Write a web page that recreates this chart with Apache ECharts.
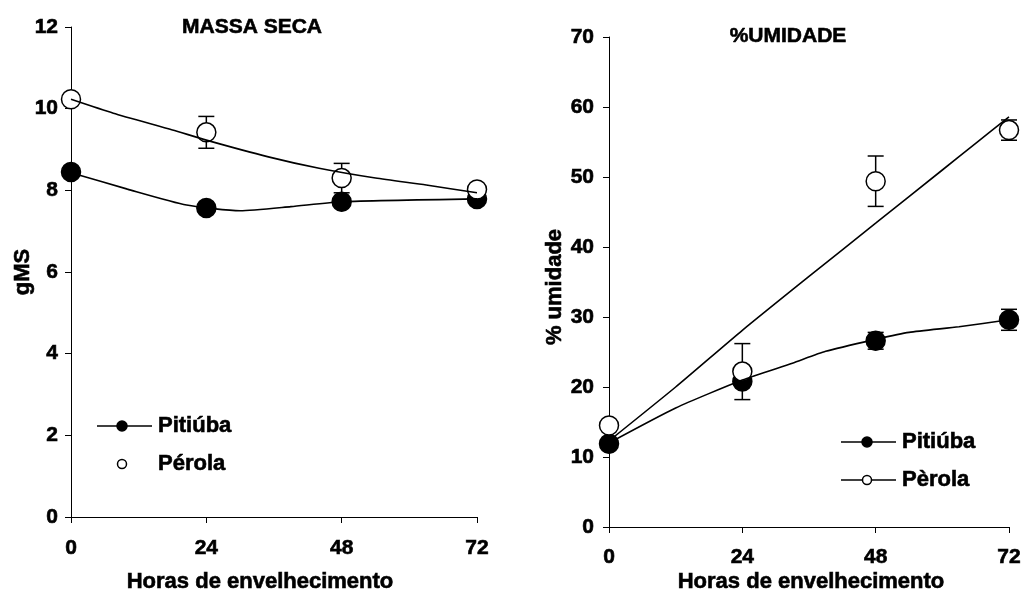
<!DOCTYPE html>
<html>
<head>
<meta charset="utf-8">
<script src="https://cdn.jsdelivr.net/npm/echarts@6/dist/echarts.min.js"></script>
<style>
html,body{margin:0;padding:0;background:#fff;}
#chart{width:1027px;height:592px;}
</style>
</head>
<body>
<div id="chart"></div>
<script>
// ---------- data ----------
const hours = [0, 24, 48, 72];
const xTicks = ['0', '24', '48', '72'];

// MASSA SECA (gMS)
const msPitiuba = [8.45, 7.57, 7.72, 7.79];
const msPitiubaErr = [0, 0, 0, 0];
const msPerola = [10.23, 9.42, 8.30, 8.02];
const msPerolaErr = [0, 0.39, 0.36, 0];
// trend curves: [hour, value]
const msPitiubaTrend = [[0, 8.43], [10, 8.03], [20.5, 7.64], [30, 7.50], [39, 7.60], [48, 7.72], [72, 7.79]];
const msPerolaTrend = [[0, 10.23], [7.5, 9.89], [18, 9.48], [24, 9.23], [35, 8.82], [44, 8.54], [54, 8.30], [63, 8.13], [72, 7.94]];

// % UMIDADE
const umPitiuba = [11.9, 20.8, 26.6, 29.6];
const umPitiubaErr = [0, 0, 1.2, 1.5];
const umPerola = [14.5, 22.2, 49.4, 56.7];
const umPerolaErr = [0, 4.0, 3.6, 1.45];
const umPitiubaTrend = [[0, 12.0], [12, 17.0], [24, 21.0], [33, 23.4], [39, 25.1], [48, 26.8], [54, 27.8], [63, 28.6], [72, 29.6]];
const umPerolaTrend = [[0, 12.3], [12, 20.0], [24, 28.1], [36, 35.8], [48, 43.4], [60, 51.0], [66, 54.8], [72, 58.6]];

const seriesNames = ['Pitiúba', 'Pérola', 'Pèrola'];
const titles = ['MASSA SECA', '%UMIDADE'];
const yNames = ['gMS', '% umidade'];
const xName = 'Horas de envelhecimento';

// ---------- helpers ----------
const FONT = '"Liberation Sans", Arial, sans-serif';
const HEAVY = 0.6;
function pts(vals) { return hours.map((h, i) => [h, vals[i]]); }
function errData(vals, errs) {
  const out = [];
  hours.forEach((h, i) => { if (errs[i] > 0) out.push([h, vals[i] - errs[i], vals[i] + errs[i]]); });
  return out;
}
function errSeries(idx, vals, errs) {
  return {
    type: 'custom', xAxisIndex: idx, yAxisIndex: idx, z: 1, silent: true,
    data: errData(vals, errs),
    renderItem: function (params, api) {
      const x = api.value(0), lo = api.value(1), hi = api.value(2);
      const a = api.coord([x, hi]), b = api.coord([x, lo]);
      const w = 8, st = { stroke: '#000', lineWidth: 1.5 };
      return { type: 'group', children: [
        { type: 'line', shape: { x1: a[0], y1: a[1], x2: b[0], y2: b[1] }, style: st },
        { type: 'line', shape: { x1: a[0] - w, y1: a[1], x2: a[0] + w, y2: a[1] }, style: st },
        { type: 'line', shape: { x1: b[0] - w, y1: b[1], x2: b[0] + w, y2: b[1] }, style: st }
      ] };
    }
  };
}
function markSeries(idx, vals, filled) {
  return {
    type: 'scatter', xAxisIndex: idx, yAxisIndex: idx, z: 2, silent: true,
    symbol: 'circle', symbolSize: 19, data: pts(vals),
    itemStyle: { color: filled ? '#000' : '#fff', borderColor: '#000', borderWidth: 1.5, opacity: 1 }
  };
}
function trendSeries(idx, data) {
  return {
    type: 'line', xAxisIndex: idx, yAxisIndex: idx, z: 3, silent: true,
    smooth: 0.2, showSymbol: false, symbol: 'none', data: data,
    lineStyle: { color: '#000', width: 1.6 }
  };
}
const axisTxt = { color: '#000', fontFamily: FONT, fontWeight: 'bold', fontSize: 21,
                  textBorderColor: '#000', textBorderWidth: HEAVY };
function xAxis(idx, margin) {
  return {
    type: 'value', gridIndex: idx, min: 0, max: 72, interval: 24,
    axisLine: { show: true, onZero: false, lineStyle: { color: '#000', width: 1 } },
    axisTick: { show: true, length: 6, lineStyle: { color: '#000' } },
    axisLabel: Object.assign({ margin: margin, formatter: v => xTicks[hours.indexOf(v)] }, axisTxt),
    splitLine: { show: false }
  };
}
function yAxis(idx, max, interval, margin) {
  return {
    type: 'value', gridIndex: idx, min: 0, max: max, interval: interval,
    axisLine: { show: true, lineStyle: { color: '#000', width: 1 } },
    axisTick: { show: true, length: 6, lineStyle: { color: '#000' } },
    axisLabel: Object.assign({ margin: margin }, axisTxt),
    splitLine: { show: false }
  };
}
function txt(text, x, y, size, rot) {
  return {
    type: 'text', x: x, y: y, rotation: rot || 0, silent: true,
    style: { text: text, x: 0, y: 0, fill: '#000', font: 'bold ' + size + 'px ' + FONT,
             stroke: '#000', lineWidth: HEAVY,
             textAlign: 'center', textVerticalAlign: 'middle' }
  };
}
function legendItem(x0, x1, cx, y, filled, withLine, label, tx) {
  const els = [];
  if (withLine) els.push({ type: 'line', silent: true, shape: { x1: x0, y1: y, x2: x1, y2: y }, style: { stroke: '#000', lineWidth: 1.6 } });
  els.push({ type: 'circle', silent: true, shape: { cx: cx, cy: y, r: filled ? 5 : 4.5 },
             style: { fill: filled ? '#000' : '#fff', stroke: '#000', lineWidth: 1.5 } });
  els.push({ type: 'text', silent: true, style: { text: label, x: tx, y: y, fill: '#000',
             stroke: '#000', lineWidth: HEAVY,
             font: 'bold 22px ' + FONT, textAlign: 'left', textVerticalAlign: 'middle' } });
  return els;
}

const chart = echarts.init(document.getElementById('chart'), null, { renderer: 'canvas' });
chart.setOption({
  animation: false,
  backgroundColor: '#fff',
  grid: [
    { left: 71, top: 27, width: 406, height: 490 },
    { left: 609, top: 37, width: 400, height: 490 }
  ],
  xAxis: [xAxis(0, 21), xAxis(1, 20)],
  yAxis: [yAxis(0, 12, 2, 13), yAxis(1, 70, 10, 15)],
  series: [
    errSeries(0, msPerola, msPerolaErr),
    errSeries(0, msPitiuba, msPitiubaErr),
    markSeries(0, msPitiuba, true),
    markSeries(0, msPerola, false),
    trendSeries(0, msPitiubaTrend),
    trendSeries(0, msPerolaTrend),
    errSeries(1, umPerola, umPerolaErr),
    errSeries(1, umPitiuba, umPitiubaErr),
    markSeries(1, umPitiuba, true),
    markSeries(1, umPerola, false),
    trendSeries(1, umPitiubaTrend),
    trendSeries(1, umPerolaTrend)
  ],
  graphic: [
    txt(titles[0], 252, 27, 21),
    txt(titles[1], 788, 36, 21),
    txt(yNames[0], 23, 272, 22, Math.PI / 2),
    txt(yNames[1], 555, 287, 22, Math.PI / 2),
    txt(xName, 260, 582, 22),
    txt(xName, 811, 582, 22)
  ].concat(
    legendItem(97, 152, 122, 426, true, true, seriesNames[0], 158),
    legendItem(97, 152, 122, 464, false, false, seriesNames[1], 158),
    legendItem(841, 896, 867, 442, true, true, seriesNames[0], 902),
    legendItem(841, 896, 867, 480, false, true, seriesNames[2], 902)
  )
});
</script>
</body>
</html>
